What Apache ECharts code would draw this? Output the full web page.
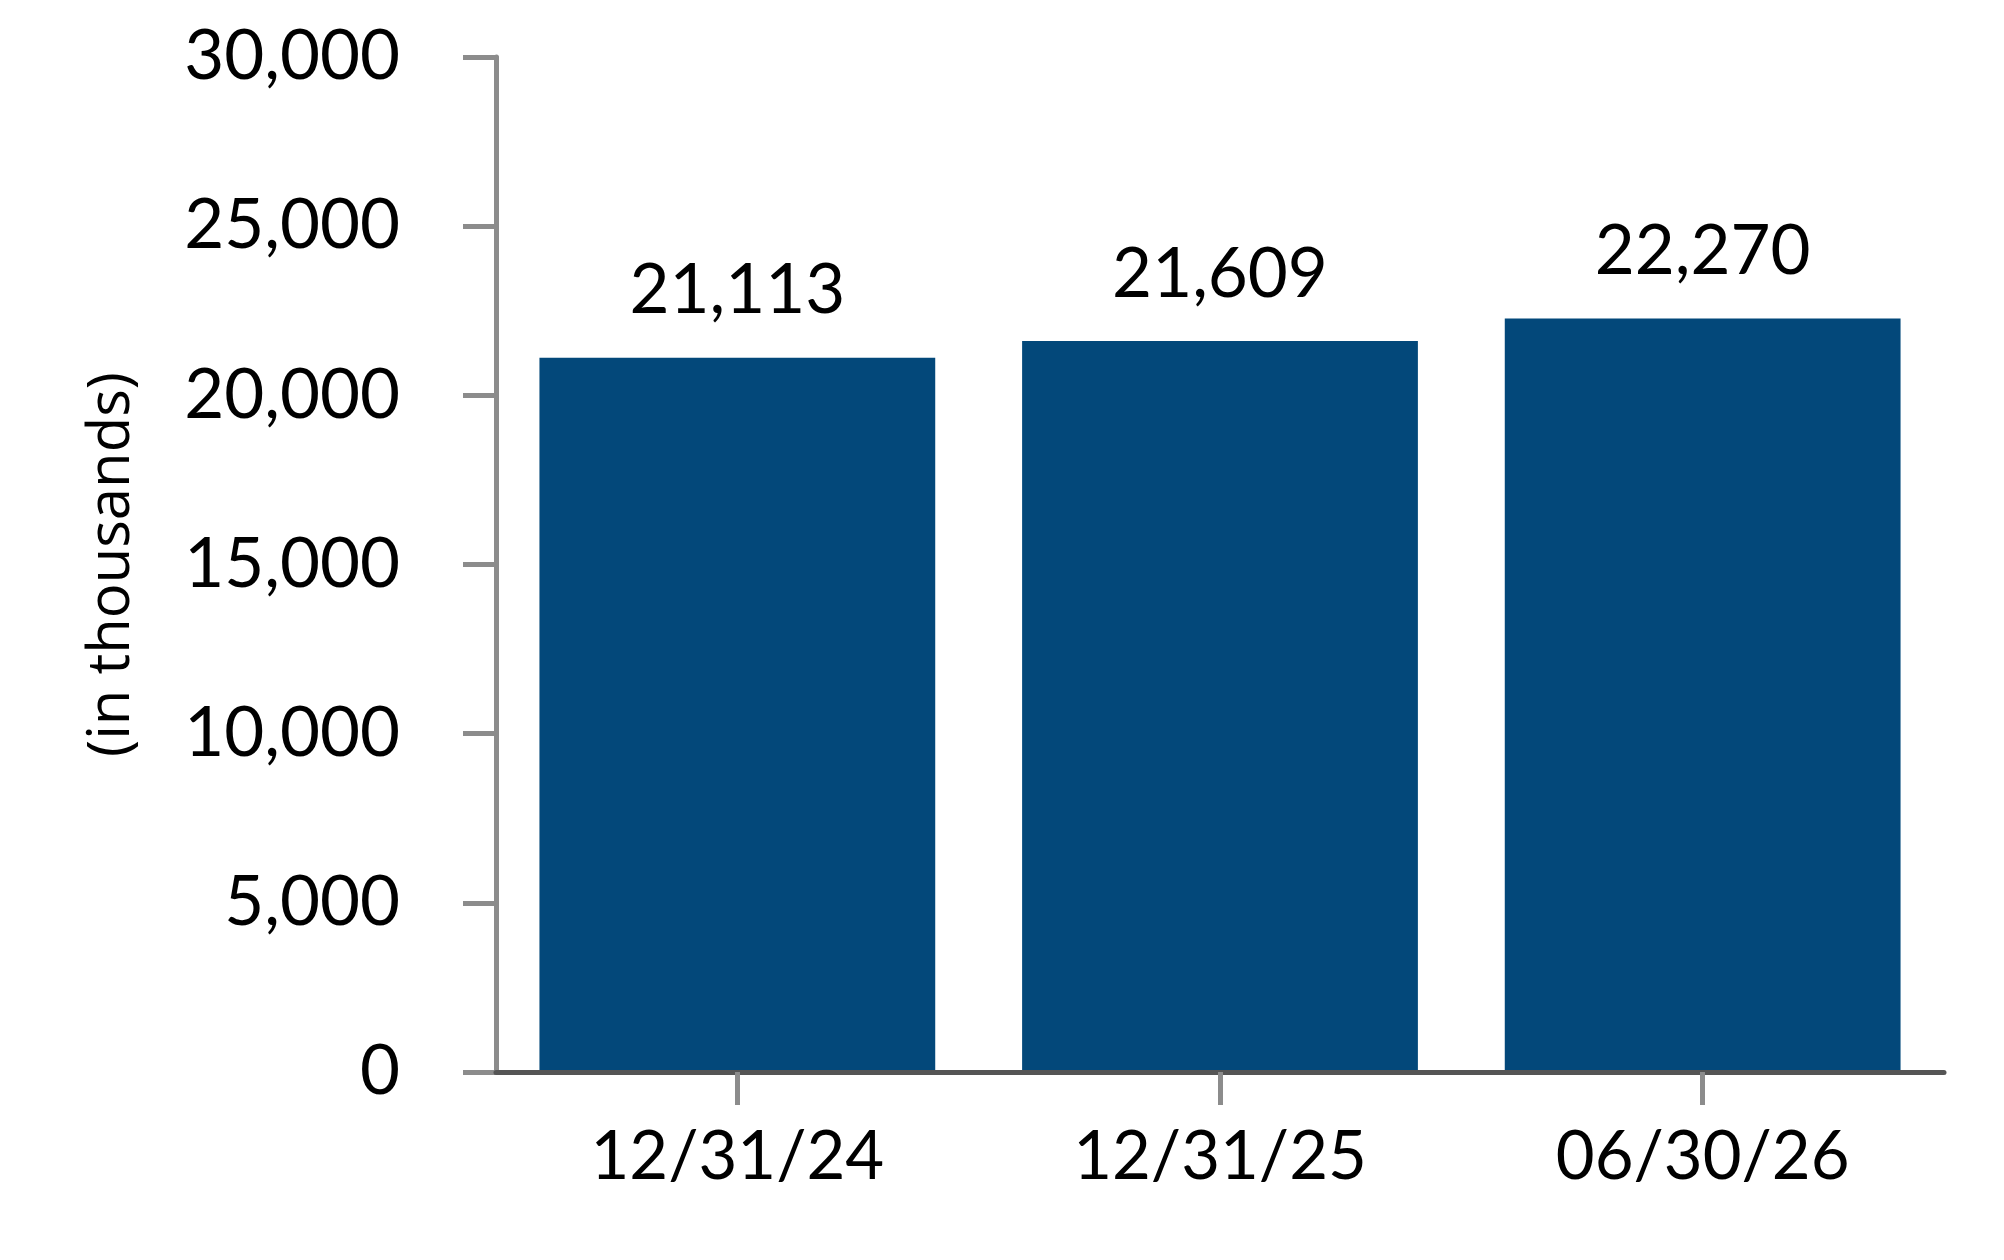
<!DOCTYPE html>
<html>
<head>
<meta charset="utf-8">
<script src="https://cdn.jsdelivr.net/npm/echarts@6/dist/echarts.min.js"></script>
<style>
  html, body { margin: 0; padding: 0; background: #fff; }
  #chart { width: 2004px; height: 1260px; }
</style>
</head>
<body>
<div id="chart"></div>
<script>
var categories = ['12/31/24', '12/31/25', '06/30/26'];
var values = [21113, 21609, 22270];
var yName = '(in thousands)';

var myChart = echarts.init(document.getElementById('chart'));

var option = {
    backgroundColor: '#fff',
    animation: false,
    grid: {
        left: 496,
        right: 60,
        top: 57,
        bottom: 188
    },
    xAxis: {
        type: 'category',
        data: categories,
        z: 3,
        axisLine: {
            lineStyle: { color: '#555', width: 5 }
        },
        axisTick: {
            show: true,
            alignWithLabel: true,
            length: 33,
            lineStyle: { color: '#8c8c8c', width: 5 }
        },
        axisLabel: {
            margin: 52,
            color: '#000',
            fontFamily: 'Lato',
            fontSize: 67
        }
    },
    yAxis: {
        type: 'value',
        min: 0,
        max: 30000,
        interval: 5000,
        name: yName,
        nameLocation: 'middle',
        nameGap: 355,
        nameTextStyle: {
            color: '#000',
            fontFamily: 'Open Sans',
            fontSize: 58
        },
        axisLine: {
            show: true,
            lineStyle: { color: '#8c8c8c', width: 5 }
        },
        axisTick: {
            show: true,
            inside: false,
            length: 33,
            lineStyle: { color: '#8c8c8c', width: 5 }
        },
        splitLine: { show: false },
        axisLabel: {
            margin: 96,
            color: '#000',
            fontFamily: 'Lato',
            fontSize: 69,
            formatter: function (v) {
                return v.toLocaleString('en-US');
            }
        }
    },
    series: [{
        type: 'bar',
        data: values,
        barCategoryGap: '18%',
        itemStyle: { color: '#03487a' },
        label: {
            show: true,
            position: 'top',
            distance: 32,
            color: '#000',
            fontFamily: 'Lato',
            fontSize: 69,
            formatter: function (p) {
                return p.value.toLocaleString('en-US');
            }
        }
    }]
};

myChart.setOption(option);
</script>
</body>
</html>
